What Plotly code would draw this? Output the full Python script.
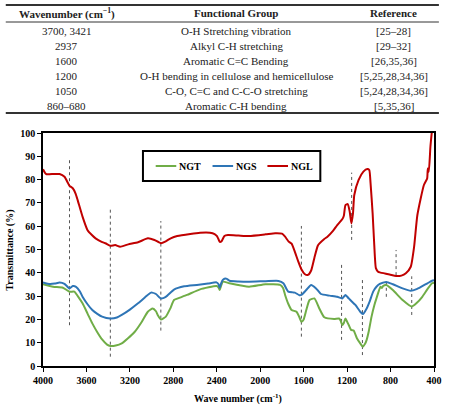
import plotly.graph_objects as go

# ---------------- data ----------------
tbl_wavenumber = ["3700, 3421", "2937", "1600", "1200", "1050", "860–680"]
tbl_group = ["O-H Stretching vibration", "Alkyl C-H stretching", "Aromatic C=C Bending",
             "O-H bending in cellulose and hemicellulose", "C-O, C=C and C-C-O stretching",
             "Aromatic C-H bending"]
tbl_ref = ["[25–28]", "[29–32]", "[26,35,36]", "[5,25,28,34,36]", "[5,24,28,34,36]", "[5,35,36]"]

series_names = ["NGT", "NGS", "NGL"]
series_colors = ["#70AD47", "#2E75B6", "#C00000"]

ngl_x = [4000, 3980, 3967, 3900, 3847, 3802, 3770, 3756, 3726, 3700, 3681, 3636, 3591, 3550, 3516,
         3460, 3425, 3380, 3335, 3290, 3215, 3125, 3035, 2974, 2914, 2870, 2824, 2764, 2644, 2554,
         2463, 2420, 2400, 2385, 2373, 2355, 2330, 2297, 2200, 2103, 1950, 1862, 1800, 1771, 1740,
         1711, 1681, 1651, 1621, 1591, 1561, 1531, 1501, 1471, 1456, 1410, 1381, 1330, 1291, 1245,
         1230, 1215, 1194, 1176, 1161, 1146, 1134, 1095, 1050, 1014, 996, 984, 965, 950, 935, 915,
         899, 809, 749, 700, 659, 614, 583, 553, 493, 463, 457, 448, 433, 420]
ngl_y = [84.4, 82.8, 82.3, 82.4, 82.4, 81.2, 78.5, 77.3, 76.3, 74.0, 71.2, 64.1, 58.4, 56.2, 54.8,
         53.3, 52.7, 51.6, 51.9, 51.2, 52.2, 53.1, 54.8, 54.1, 52.7, 53.5, 54.8, 55.8, 56.7, 57.2,
         57.2, 56.6, 55.8, 54.5, 53.3, 53.6, 55.8, 56.2, 56.0, 55.8, 56.5, 57.0, 56.8, 55.5, 53.5,
         52.5, 49.0, 45.0, 41.5, 39.5, 39.1, 41.0, 46.5, 51.5, 52.5, 54.5, 55.5, 58.0, 60.5, 63.0,
         64.5, 69.1, 69.5, 66.2, 61.2, 65.5, 73.4, 79.8, 83.4, 84.5, 84.1, 78.4, 65.5, 52.0, 42.0, 40.5,
         40.2, 39.3, 38.6, 38.8, 39.8, 42.6, 51.2, 64.8, 77.7, 80.5, 84.8, 83.4, 94.1, 100.5]

ngs_x = [4000, 3937, 3890, 3847, 3802, 3770, 3756, 3726, 3696, 3660, 3636, 3590, 3546, 3500, 3456,
         3380, 3320, 3275, 3200, 3125, 3060, 3005, 2960, 2930, 2914, 2869, 2794, 2700, 2583, 2480,
         2403, 2385, 2373, 2360, 2343, 2313, 2283, 2200, 2103, 1950, 1832, 1787, 1742, 1700, 1681,
         1640, 1621, 1576, 1531, 1486, 1441, 1360, 1291, 1245, 1215, 1185, 1155, 1124, 1079, 1055,
         1020, 990, 960, 930, 899, 839, 779, 689, 614, 560, 508, 460, 418, 400]
ngs_y = [35.9, 35.2, 35.4, 35.8, 35.2, 33.8, 33.3, 34.3, 34.0, 32.0, 29.7, 26.5, 24.0, 22.4, 21.2,
         20.4, 20.8, 21.9, 24.2, 26.9, 29.5, 31.5, 30.9, 29.5, 29.0, 29.7, 32.8, 34.2, 34.8, 35.4,
         35.9, 35.2, 33.6, 35.5, 37.0, 37.5, 36.6, 36.3, 36.2, 36.4, 36.5, 35.5, 31.9, 31.6, 31.5,
         30.4, 30.5, 32.6, 34.8, 33.3, 30.9, 30.2, 29.7, 29.0, 30.5, 29.0, 27.6, 26.2, 23.3, 22.3,
         24.7, 28.0, 31.9, 34.0, 35.2, 36.1, 35.1, 33.3, 32.3, 33.0, 34.3, 35.5, 36.6, 36.8]

ngt_x = [4000, 3907, 3817, 3756, 3711, 3680, 3636, 3590, 3546, 3500, 3456, 3410, 3380, 3330, 3275,
         3220, 3155, 3090, 3035, 2990, 2960, 2944, 2914, 2869, 2830, 2794, 2764, 2674, 2554, 2403,
         2385, 2373, 2360, 2343, 2283, 2103, 1952, 1817, 1790, 1771, 1740, 1711, 1666, 1640, 1621,
         1600, 1576, 1546, 1501, 1456, 1410, 1320, 1275, 1260, 1245, 1230, 1215, 1200, 1185, 1164,
         1140, 1110, 1079, 1055, 1035, 1020, 1000, 975, 950, 930, 893, 880, 869, 839, 779, 689, 605,
         560, 508, 460, 418, 400]
ngt_y = [35.1, 34.0, 33.6, 31.9, 31.9, 30.0, 26.9, 22.5, 18.3, 14.5, 11.4, 9.2, 8.6, 8.8, 9.7,
         11.8, 14.7, 19.0, 23.3, 24.7, 23.5, 21.9, 20.0, 21.2, 24.5, 28.3, 28.9, 30.5, 32.9, 34.3,
         33.8, 32.6, 34.5, 36.2, 35.5, 34.0, 35.1, 34.8, 33.5, 30.5, 26.5, 24.0, 23.3, 21.0, 19.0,
         20.0, 24.0, 28.3, 29.0, 24.7, 20.9, 20.2, 20.4, 19.5, 17.6, 18.5, 20.4, 19.0, 17.6, 15.5,
         15.2, 11.9, 9.7, 8.3, 9.5, 11.2, 15.0, 21.2, 26.0, 29.0, 34.0, 33.5, 34.3, 34.8, 32.6, 28.3, 25.5,
         27.0, 29.7, 33.0, 35.5, 35.8]

marker_wn = [3756, 3380, 2915, 1621, 1251, 1158, 1059, 839, 749, 605]
marker_lo = [17.5, 4.0, 15.2, 12.6, 11.2, 54.1, 4.7, 29.7, 39.0, 21.9]
marker_hi = [88.7, 68.1, 62.2, 60.1, 44.3, 83.0, 37.6, 36.9, 49.8, 38.5]

x_ticks = [4000, 3600, 3200, 2800, 2400, 2000, 1600, 1200, 800, 400]
y_ticks = [0, 10, 20, 30, 40, 50, 60, 70, 80, 90, 100]

# ---------------- layout helpers ----------------
W, H = 452, 409
L, R, T, B = 43, 10, 133, 43
PW, PH = W - L - R, H - T - B


def px(x):
    return (x - L) / PW


def py(y):
    return (H - B - y) / PH


SERIF = "Liberation Serif"

fig = go.Figure()

# dotted reference lines
mx, my = [], []
for w, lo, hi in zip(marker_wn, marker_lo, marker_hi):
    mx += [w, w, None]
    my += [lo, hi, None]
fig.add_trace(go.Scatter(x=mx, y=my, mode="lines", showlegend=False, hoverinfo="skip",
                         line=dict(color="#555555", width=1, dash="dot")))

for name, color, xs, ys in zip(series_names, series_colors, [ngt_x, ngs_x, ngl_x], [ngt_y, ngs_y, ngl_y]):
    fig.add_trace(go.Scatter(x=xs, y=ys, mode="lines", name=name, showlegend=False,
                             line=dict(color=color, width=2, shape="spline", smoothing=0.5)))

shapes = []
annotations = []

# table rules
for yy, lw in [(5, 2), (22, 1), (113, 2)]:
    shapes.append(dict(type="line", xref="paper", yref="paper", x0=px(5), x1=px(447),
                       y0=py(yy), y1=py(yy), line=dict(color="#333333", width=lw)))

col_x = [67, 240, 401]
headers = ["Wavenumber (cm<sup>−1</sup>)", "Functional Group", "Reference"]
for cx, htxt in zip(col_x, headers):
    annotations.append(dict(text="<b>" + htxt + "</b>", x=px(cx), y=py(13), xref="paper", yref="paper",
                            showarrow=False, xanchor="center", yanchor="middle",
                            font=dict(family=SERIF, size=11, color="#222222")))
for i in range(len(tbl_wavenumber)):
    ry = 31 + 15 * i
    for cx, col in zip(col_x, [tbl_wavenumber, tbl_group, tbl_ref]):
        annotations.append(dict(text=col[i], x=px(cx), y=py(ry), xref="paper", yref="paper",
                                showarrow=False, xanchor="center", yanchor="middle",
                                font=dict(family=SERIF, size=11, color="#222222")))

# legend (frame, line samples, labels)
shapes.append(dict(type="rect", xref="paper", yref="paper", x0=px(145), x1=px(326),
                   y0=py(181), y1=py(151), line=dict(color="black", width=2),
                   fillcolor="white", layer="below"))
leg_start = [158, 216, 272]
for name, color, x0 in zip(series_names, series_colors, leg_start):
    shapes.append(dict(type="line", xref="paper", yref="paper", x0=px(x0), x1=px(x0 + 21),
                       y0=py(166), y1=py(166), line=dict(color=color, width=2)))
    annotations.append(dict(text="<b>" + name + "</b>", x=px(x0 + 22), y=py(166), xref="paper",
                            yref="paper", showarrow=False, xanchor="left", yanchor="middle",
                            font=dict(family=SERIF, size=10, color="black")))

# axis titles
annotations.append(dict(text="<b>Transmittance (%)</b>", x=px(9), y=py(250), xref="paper", yref="paper",
                        showarrow=False, textangle=-90, xanchor="center", yanchor="middle",
                        font=dict(family=SERIF, size=10, color="black")))
annotations.append(dict(text="<b>Wave number (cm<sup>-1</sup>)</b>", x=px(242), y=py(398), xref="paper",
                        yref="paper", showarrow=False, xanchor="center", yanchor="middle",
                        font=dict(family=SERIF, size=10, color="black")))

fig.update_layout(
    width=W, height=H,
    margin=dict(l=L, r=R, t=T, b=B),
    paper_bgcolor="white", plot_bgcolor="white",
    shapes=shapes, annotations=annotations, showlegend=False,
    xaxis=dict(range=[4000, 400], tickvals=x_ticks, ticktext=[str(v) for v in x_ticks],
               showgrid=False, zeroline=False, showline=True, linecolor="black", linewidth=1.5,
               mirror=True, ticks="outside", ticklen=4, tickcolor="black",
               tickfont=dict(family=SERIF, size=10, color="black", weight="bold")),
    yaxis=dict(range=[0, 100], tickvals=y_ticks, ticktext=[str(v) for v in y_ticks],
               showgrid=False, zeroline=False, showline=True, linecolor="black", linewidth=1.5,
               mirror=True, ticks="outside", ticklen=4, tickcolor="black",
               tickfont=dict(family=SERIF, size=10, color="black", weight="bold")),
)

fig.write_html("out.html")
